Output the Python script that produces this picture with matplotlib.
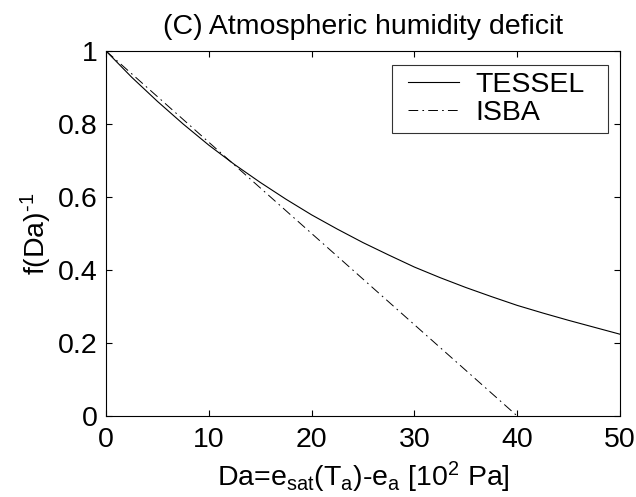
import numpy as np
import matplotlib
matplotlib.use("Agg")
import matplotlib.pyplot as plt
from matplotlib.ticker import FormatStrFormatter
from matplotlib.legend_handler import HandlerLine2D

plt.rcParams['font.family'] = ['Liberation Sans', 'DejaVu Sans']
plt.rcParams['mathtext.fontset'] = 'custom'
plt.rcParams['mathtext.rm'] = 'Liberation Sans'
plt.rcParams['mathtext.it'] = 'Liberation Sans'
plt.rcParams['lines.scale_dashes'] = False

# -----------------------------
# data
# -----------------------------
da_tessel = [0, 2.5, 5, 7.5, 10, 12.5, 15, 17.5, 20, 22.5, 25, 27.5,
             30, 32.5, 35, 37.5, 40, 42.5, 45, 47.5, 50]
f_tessel = [1.0, 0.928, 0.862, 0.80, 0.742, 0.689, 0.64, 0.594, 0.551, 0.512, 0.475, 0.441,
            0.408, 0.379, 0.352, 0.327, 0.303, 0.282, 0.262, 0.243, 0.224]

da_isba = [0, 40]
f_isba = [1.0, 0.0]

x_ticks = [0, 10, 20, 30, 40, 50]
y_ticks = [0, 0.2, 0.4, 0.6, 0.8, 1]

FS = 20.5

# -----------------------------
# figure
# -----------------------------
fig = plt.figure(figsize=(6.36, 4.97), dpi=100)
ax = fig.add_axes([0.1667, 0.1630, 0.8082, 0.7344])

ax.plot(da_tessel, f_tessel, color='black', lw=0.8, label='TESSEL')
ax.plot(da_isba, f_isba, color='black', lw=0.7, dashes=(7, 3, 1.2, 3), label='ISBA')

ax.set_xlim(0, 50)
ax.set_ylim(0, 1)
ax.set_xticks(x_ticks)
ax.set_yticks(y_ticks)
ax.yaxis.set_major_formatter(FormatStrFormatter('%g'))
ax.tick_params(direction='in', length=4, width=0.8, top=True, right=True,
               labelsize=FS)
ax.tick_params(axis='x', pad=8)
ax.tick_params(axis='y', pad=6)
for s in ax.spines.values():
    s.set_linewidth(0.8)

ax.set_title('(C) Atmospheric humidity deficit', fontsize=FS, pad=12)
ax.set_xlabel(r'Da=e$_{\mathrm{sat}}$(T$_{\mathrm{a}}$)-e$_{\mathrm{a}}$ [10$^{\mathrm{2}}$ Pa]',
              fontsize=FS, labelpad=5)
ax.set_ylabel(r'f(Da)$^{\text{-1}}$', fontsize=FS, labelpad=3)

# legend box: matlab style, text left, spare room on the right
hmap = {}
leg = ax.legend(loc='upper right', fontsize=FS, frameon=True, fancybox=False,
                edgecolor='black', handlelength=2.1, handletextpad=0.6,
                labelspacing=0.05, borderpad=0.25, borderaxespad=0.0,
                mode='expand', bbox_to_anchor=(0.5556, 0.5, 0.4204, 0.4616),
                handler_map={matplotlib.lines.Line2D: HandlerLine2D(xpad=0.32)})
leg.get_frame().set_linewidth(0.8)

fig.savefig('out.png', dpi=100)
